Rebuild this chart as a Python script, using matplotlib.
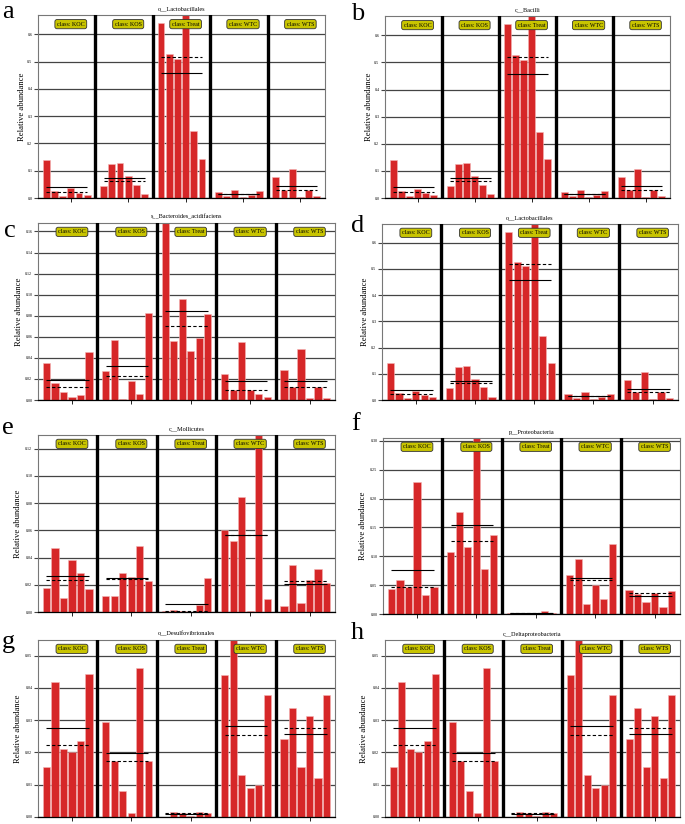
import numpy as np
import matplotlib
matplotlib.use("Agg")
import matplotlib.pyplot as plt

plt.rcParams['font.family'] = ['Liberation Serif', 'DejaVu Serif']

# ================= Data =================
CLASSES = ["KOC", "KOS", "Treat", "WTC", "WTS"]

# o__Lactobacillales / c__Bacilli (6 samples per class)
lacto_koc = [0.140, 0.027, 0.006, 0.035, 0.018, 0.012]
lacto_kos = [0.045, 0.124, 0.130, 0.080, 0.048, 0.013]
lacto_treat = [0.642, 0.527, 0.510, 0.674, 0.244, 0.142]
lacto_wtc = [0.022, 0.006, 0.030, 0.002, 0.010, 0.024]
lacto_wts = [0.078, 0.030, 0.108, 0.005, 0.030, 0.007]

# s__Bacteroides_acidifaciens
bact_koc = [0.0348, 0.0165, 0.0073, 0.0032, 0.0044, 0.0453]
bact_kos = [0.0275, 0.0566, 0.0006, 0.0180, 0.0060, 0.0823]
bact_treat = [0.1700, 0.0557, 0.0962, 0.0468, 0.0589, 0.0816]
bact_wtc = [0.0250, 0.0098, 0.0547, 0.0098, 0.0060, 0.0032]
bact_wts = [0.0282, 0.0127, 0.0484, 0.0022, 0.0127, 0.0016]

# c__Mollicutes
moll_koc = [0.0179, 0.0468, 0.0103, 0.0380, 0.0289, 0.0172]
moll_kos = [0.0115, 0.0120, 0.0287, 0.0260, 0.0488, 0.0228]
moll_treat = [0.0010, 0.0012, 0.0005, 0.0002, 0.0054, 0.0250]
moll_wtc = [0.0605, 0.0522, 0.0848, 0.0010, 0.1310, 0.0098]
moll_wts = [0.0044, 0.0348, 0.0069, 0.0238, 0.0316, 0.0213]

# p__Proteobacteria
prot_koc = [0.0428, 0.0590, 0.0474, 0.2280, 0.0330, 0.0462]
prot_kos = [0.1070, 0.1770, 0.1162, 0.3084, 0.0780, 0.1364]
prot_treat = [0.0020, 0.0010, 0.0015, 0.0020, 0.0060, 0.0025]
prot_wtc = [0.0680, 0.0960, 0.0173, 0.0497, 0.0254, 0.1208]
prot_wts = [0.0410, 0.0353, 0.0214, 0.0358, 0.0121, 0.0399]

# o__Desulfovibrionales / c__Deltaproteobacteria
desu_koc = [0.0155, 0.0418, 0.0210, 0.0200, 0.0234, 0.0444]
desu_kos = [0.0294, 0.0174, 0.0081, 0.0013, 0.0462, 0.0174]
desu_treat = [0.0000, 0.0015, 0.0013, 0.0002, 0.0017, 0.0013]
desu_wtc = [0.0439, 0.0555, 0.0131, 0.0090, 0.0098, 0.0379]
desu_wts = [0.0240, 0.0338, 0.0155, 0.0312, 0.0122, 0.0379]

lacto = [lacto_koc, lacto_kos, lacto_treat, lacto_wtc, lacto_wts]
bact = [bact_koc, bact_kos, bact_treat, bact_wtc, bact_wts]
moll = [moll_koc, moll_kos, moll_treat, moll_wtc, moll_wts]
prot = [prot_koc, prot_kos, prot_treat, prot_wtc, prot_wts]
desu = [desu_koc, desu_kos, desu_treat, desu_wtc, desu_wts]

# (letter, title, data, ylim top, yticks, tick format)
PANELS = [
    ("a", "o__Lactobacillales", lacto, 0.671, np.arange(0, 0.61, 0.1), "%.1f"),
    ("b", "c__Bacilli", lacto, 0.671, np.arange(0, 0.61, 0.1), "%.1f"),
    ("c", "s__Bacteroides_acidifaciens", bact, 0.168, np.arange(0, 0.161, 0.02), "%.2f"),
    ("d", "o__Lactobacillales", lacto, 0.671, np.arange(0, 0.61, 0.1), "%.1f"),
    ("e", "c__Mollicutes", moll, 0.130, np.arange(0, 0.121, 0.02), "%.2f"),
    ("f", "p__Proteobacteria", prot, 0.305, np.arange(0, 0.301, 0.05), "%.2f"),
    ("g", "o__Desulfovibrionales", desu, 0.0548, np.arange(0, 0.051, 0.01), "%.2f"),
    ("h", "c__Deltaproteobacteria", desu, 0.0548, np.arange(0, 0.051, 0.01), "%.2f"),
]

# axes boxes in pixels: left, right, top, bottom
BOXES = [
    (38, 325, 15, 198), (385, 670, 16, 198),
    (38, 335, 223, 400), (382, 678, 224, 400),
    (38, 335, 435, 612), (383, 680, 438, 614),
    (38, 335, 640, 817), (385, 680, 640, 817),
]
# panel letter positions (px, left / vertical center)
LETTERS = [(2, 12), (351, 14), (4, 231), (351, 226), (2, 428), (351, 424), (2, 642), (351, 633)]
# y label distance left of the axes (px)
YLAB_OFF = [16, 16, 19, 17, 20, 20, 20, 21]

W, H = 685, 824
BAR_RED = '#d62728'
BOX_YELLOW = '#c8c400'

fig = plt.figure(figsize=(W / 100, H / 100), dpi=100)

for (letter, title, groups, ytop, yticks, fmt), (l, r, t, b), (lx, ly), yoff in zip(
        PANELS, BOXES, LETTERS, YLAB_OFF):
    ax = fig.add_axes([l / W, 1 - b / H, (r - l) / W, (b - t) / H])

    # gridlines behind everything
    for yv in yticks:
        ax.axhline(yv, color='#444444', lw=0.9, zorder=0)

    for g, vals in enumerate(groups):
        xs = 7 * g + 1 + np.arange(len(vals))
        ax.bar(xs, vals, width=0.85, color=BAR_RED, edgecolor='#f3b5b5',
               linewidth=0.4, zorder=2)
        # mean (solid) and median (dashed)
        ax.hlines(np.mean(vals), 7 * g + 1, 7 * g + 6, colors='black', lw=0.8, zorder=3)
        ax.hlines(np.median(vals), 7 * g + 1, 7 * g + 6, colors='black', lw=0.8,
                  linestyles=(0, (3, 2)), zorder=3)
        ax.text(7 * g + 4, ytop * 0.95, "class: " + CLASSES[g], fontsize=4.3,
                ha='center', va='center', zorder=5,
                bbox=dict(boxstyle='round,pad=0.35', facecolor=BOX_YELLOW,
                          edgecolor='#333333', linewidth=0.6))
        if g > 0:
            ax.axvline(7 * g, color='black', lw=2.4, zorder=4)

    ax.set_xlim(0, 35)
    ax.set_ylim(0, ytop)
    ax.set_xticks([7 * g + 4 for g in range(5)])
    ax.set_xticklabels([])
    ax.set_yticks(yticks)
    ax.set_yticklabels([fmt % v for v in yticks], fontsize=3)
    ax.tick_params(axis='y', length=3, width=0.8, color='#444444', pad=1)
    ax.tick_params(axis='x', length=3, width=0.6)
    for side in ['top', 'right', 'left']:
        ax.spines[side].set_color('#777777')
        ax.spines[side].set_linewidth(0.8)
    ax.spines['bottom'].set_color('black')
    ax.spines['bottom'].set_linewidth(0.9)

    ax.set_title(title, fontsize=4.5, pad=3)
    ax.set_ylabel("Relative abundance", fontsize=6.2, va='center')
    ax.yaxis.set_label_coords(-yoff / (r - l), 0.5)
    fig.text(lx / W, 1 - ly / H, letter, fontsize=19, va='center', ha='left')

fig.savefig("out.png", dpi=100)
